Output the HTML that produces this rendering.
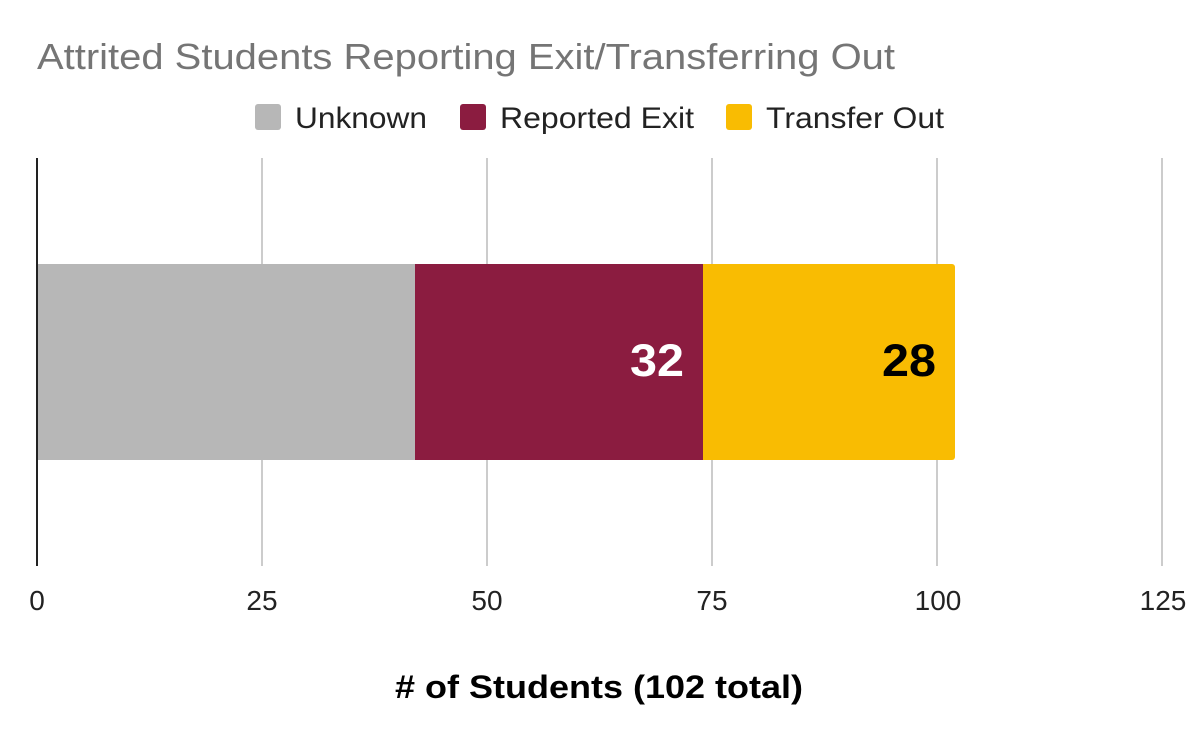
<!DOCTYPE html>
<html><head><style>
html,body{margin:0;padding:0;background:#fff;}
svg text{font-family:"Liberation Sans",Arial,sans-serif;}
</style></head><body>
<svg width="1200" height="742" viewBox="0 0 1200 742" xmlns="http://www.w3.org/2000/svg">
<rect width="1200" height="742" fill="#fff"/>
<text x="37" y="69" font-size="36" fill="#757575" textLength="858" lengthAdjust="spacingAndGlyphs">Attrited Students Reporting Exit/Transferring Out</text>
<rect x="255" y="104" width="26" height="26" rx="3" fill="#b7b7b7"/>
<text x="295" y="128" font-size="30" fill="#222" textLength="132" lengthAdjust="spacingAndGlyphs">Unknown</text>
<rect x="460" y="104" width="26" height="26" rx="3" fill="#8b1c40"/>
<text x="500" y="128" font-size="30" fill="#222" textLength="194" lengthAdjust="spacingAndGlyphs">Reported Exit</text>
<rect x="726" y="104" width="26" height="26" rx="3" fill="#f9bc02"/>
<text x="766" y="128" font-size="30" fill="#222" textLength="178" lengthAdjust="spacingAndGlyphs">Transfer Out</text>
<g stroke="#cccccc" stroke-width="2">
<line x1="262" y1="158" x2="262" y2="566"/>
<line x1="487" y1="158" x2="487" y2="566"/>
<line x1="712" y1="158" x2="712" y2="566"/>
<line x1="937" y1="158" x2="937" y2="566"/>
<line x1="1162" y1="158" x2="1162" y2="566"/>
</g>
<rect x="37" y="264" width="379" height="196" fill="#b7b7b7"/>
<rect x="415" y="264" width="289" height="196" fill="#8b1c40"/>
<path d="M703 264 H952 a3 3 0 0 1 3 3 V457 a3 3 0 0 1 -3 3 H703 Z" fill="#f9bc02"/>
<line x1="37" y1="158" x2="37" y2="566" stroke="#222" stroke-width="2"/>
<text x="684" y="376" font-size="45" font-weight="bold" fill="#fff" text-anchor="end" textLength="54" lengthAdjust="spacingAndGlyphs">32</text>
<text x="936" y="376" font-size="45" font-weight="bold" fill="#000" text-anchor="end" textLength="54" lengthAdjust="spacingAndGlyphs">28</text>
<g font-size="28" fill="#222" text-anchor="middle">
<text x="37" y="610">0</text>
<text x="262" y="610">25</text>
<text x="487" y="610">50</text>
<text x="712" y="610">75</text>
<text x="938" y="610">100</text>
<text x="1163" y="610">125</text>
</g>
<text x="395" y="698" font-size="32" font-weight="bold" fill="#000" textLength="408" lengthAdjust="spacingAndGlyphs"># of Students (102 total)</text>
</svg>
</body></html>
